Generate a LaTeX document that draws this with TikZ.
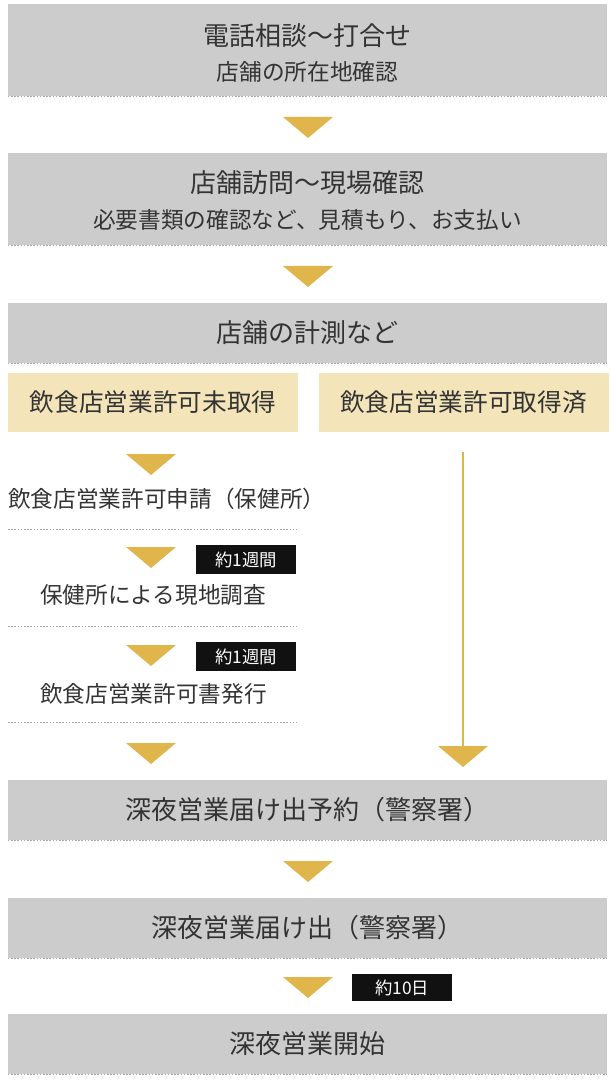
\documentclass[tikz,border=0pt]{standalone}
\usepackage{fontspec}
\setmainfont{Noto Sans CJK JP}
\usetikzlibrary{positioning}

\definecolor{boxgray}{HTML}{CCCCCC}
\definecolor{gold}{HTML}{E0B54B}
\definecolor{beige}{HTML}{F3E4B9}
\definecolor{ink}{HTML}{333333}
\definecolor{tagblack}{HTML}{111111}
\definecolor{dotgray}{HTML}{A8A8A8}

\newcommand{\goldtri}[3]{%
  \fill[gold] (#2-25,#3) -- (#2+25,#3) -- (#2,#3+21) -- cycle;
  \coordinate (#1) at (#2,#3);}

\begin{document}
\begin{tikzpicture}[x=0.75pt, y=-0.75pt,
    graybox/.style={fill=boxgray, inner sep=0pt, minimum width=449.25pt},
    beigebox/.style={fill=beige, inner sep=0pt, minimum width=217.5pt, minimum height=44.25pt,
      text=ink, font=\fontsize{18.5pt}{20pt}\selectfont},
    titletext/.style={text=ink, inner sep=0pt, font=\fontsize{19.5pt}{22pt}\selectfont},
    subtext/.style={text=ink, inner sep=0pt, font=\fontsize{17pt}{20pt}\selectfont},
    steptext/.style={text=ink, inner sep=0pt, anchor=west, font=\fontsize{17pt}{20pt}\selectfont},
    tag/.style={fill=tagblack, text=white, inner sep=0pt, minimum width=75pt,
      font=\fontsize{13pt}{15pt}\selectfont},
    dotline/.style={dotgray, line width=0.75pt, dash pattern=on 1.2pt off 1.2pt}]

  \useasboundingbox (0,0) rectangle (610,1080);

  % Top steps
  \node[graybox, minimum height=69pt] (call) at (307.5,50) {};
  \node[titletext] (callT) at (307.5,36) {電話相談～打合せ};
  \node[subtext] (callS) at (307.5,72) {店舗の所在地確認};
  \draw[dotline] (call.south west) -- (call.south east);
  \goldtri{t1}{308}{117}

  \node[graybox, minimum height=69pt] (visit) at (307.5,199) {};
  \node[titletext] (visitT) at (307.5,183) {店舗訪問～現場確認};
  \node[subtext] (visitS) at (307.5,220) {必要書類の確認など、見積もり、お支払い};
  \draw[dotline] (visit.south west) -- (visit.south east);
  \goldtri{t2}{308}{266}

  \node[graybox, minimum height=45pt, text=ink, font=\fontsize{19.5pt}{22pt}\selectfont] (measure) at (307.5,333) {店舗の計測など};
  \draw[dotline] (measure.south west) -- (measure.south east);

  % Two branches
  \node[beigebox] (noPermit) at (153,402.5) {飲食店営業許可未取得};
  \node[beigebox] (hasPermit) at (463.5,402.5) {飲食店営業許可取得済};

  % Left branch
  \goldtri{t3}{151}{454}
  \node[steptext] (apply) at (8,499) {飲食店営業許可申請（保健所）};
  \draw[dotline] (8,529) -- (297,529);
  \goldtri{t4}{151}{547}
  \node[tag, minimum height=21.75pt] (week1) at (246,559.5) {約1週間};
  \node[steptext] (inspect) at (40,595) {保健所による現地調査};
  \draw[dotline] (8,626) -- (297,626);
  \goldtri{t5}{151}{645}
  \node[tag, minimum height=21.75pt] (week2) at (246,656.5) {約1週間};
  \node[steptext] (issue) at (40,694) {飲食店営業許可書発行};
  \draw[dotline] (8,722) -- (297,722);
  \goldtri{t6}{151}{743}

  % Right branch
  \coordinate (lineTop) at (463,452);
  \goldtri{t7}{463}{746}
  \draw[gold, line width=1.1pt] (lineTop) -- (t7);

  % Bottom steps
  \node[graybox, minimum height=45pt, text=ink, font=\fontsize{19.5pt}{22pt}\selectfont] (reserve) at (307.5,810) {深夜営業届け出予約（警察署）};
  \draw[dotline] (reserve.south west) -- (reserve.south east);
  \goldtri{t8}{308}{861}
  \node[graybox, minimum height=45pt, text=ink, font=\fontsize{19.5pt}{22pt}\selectfont] (notify) at (307.5,928) {深夜営業届け出（警察署）};
  \draw[dotline] (notify.south west) -- (notify.south east);
  \goldtri{t9}{308}{977}
  \node[tag, minimum height=20.25pt] (days) at (402,987.5) {約10日};
  \node[graybox, minimum height=45pt, text=ink, font=\fontsize{19.5pt}{22pt}\selectfont] (start) at (307.5,1044) {深夜営業開始};
  \draw[dotline] (start.south west) -- (start.south east);

\end{tikzpicture}
\end{document}
